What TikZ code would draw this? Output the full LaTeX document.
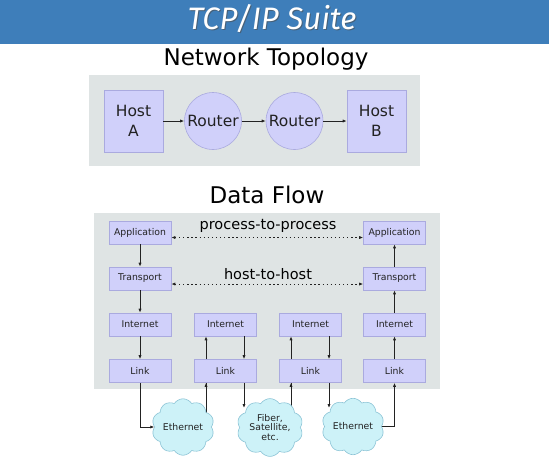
\documentclass[tikz,border=0pt]{standalone}
\usepackage{fontspec}
\setmainfont{DejaVu Sans}
\newfontfamily\titlefont{Fira Sans}
\usetikzlibrary{shapes.symbols,arrows.meta}
\definecolor{barblue}{HTML}{3E7EBA}
\definecolor{panelgray}{HTML}{DFE4E4}
\definecolor{boxfill}{HTML}{D0D0FA}
\definecolor{boxline}{HTML}{AAAADF}
\definecolor{cloudfill}{HTML}{CDF2F8}
\definecolor{cloudline}{HTML}{8CC4D6}
\definecolor{ink}{HTML}{222222}
\tikzset{
  layerbox/.style={rectangle, draw=boxline, fill=boxfill, line width=0.6pt,
    minimum width=62pt, minimum height=23pt, inner sep=0pt,
    font=\fontsize{9.3}{11}\selectfont, text=ink},
  hostbox/.style={rectangle, draw=boxline, fill=boxfill, line width=0.6pt,
    minimum width=59pt, minimum height=62pt, inner sep=0pt, align=center,
    font=\fontsize{15.5}{20}\selectfont, text=ink},
  routernode/.style={circle, draw=boxline, fill=boxfill, line width=0.6pt,
    minimum size=57pt, inner sep=0pt, font=\fontsize{15.5}{18}\selectfont, text=ink},
  netcloud/.style={cloud, cloud puffs=10, cloud puff arc=115, aspect=1.15,
    draw=cloudline, fill=cloudfill, line width=0.6pt, inner sep=0pt,
    minimum width=58pt, minimum height=50pt, align=center,
    font=\fontsize{9.3}{9.8}\selectfont, text=ink},
  heading/.style={font=\fontsize{23}{26}\selectfont, text=black},
  flowlabel/.style={font=\fontsize{14.5}{16}\selectfont, text=black},
  conn/.style={draw=ink, line width=0.9pt, -{Latex[length=4pt,width=3.2pt]}},
  peer/.style={draw=ink, line width=0.9pt, dash pattern=on 1.3pt off 2.8pt,
    {Latex[length=4pt,width=3.2pt]}-{Latex[length=4pt,width=3.2pt]}},
}
\begin{document}
\begin{tikzpicture}[x=1pt,y=-1pt]
\useasboundingbox (0,0) rectangle (549,463);
\fill[white] (0,0) rectangle (549,463);
% title bar
\fill[barblue] (0,0) rectangle (549,44);
\node[font=\titlefont\itshape\fontsize{31}{34}\selectfont, text=black!70, opacity=0.6] at (273,20) {TCP/IP Suite};
\node[font=\titlefont\itshape\fontsize{31}{34}\selectfont, text=white] (title) at (272,19) {TCP/IP Suite};
% topology
\node[heading] (toptitle) at (266,59) {Network Topology};
\fill[panelgray] (89,75) rectangle (420,166);
\node[hostbox] (ha) at (133.5,121) {Host\\A};
\node[routernode] (r1) at (213,121) {Router};
\node[routernode] (r2) at (294.5,121) {Router};
\node[hostbox] (hb) at (376.5,121) {Host\\B};
\draw[conn] (ha) -- (r1);
\draw[conn] (r1) -- (r2);
\draw[conn] (r2) -- (hb);
% data flow
\node[heading] (dftitle) at (267,195) {Data Flow};
\fill[panelgray] (94,213) rectangle (440,389);
\node[layerbox] (a1) at (140,232.5) {Application};
\node[layerbox] (a4) at (394.5,232.5) {Application};
\node[layerbox] (t1) at (140,278.5) {Transport};
\node[layerbox] (t4) at (394.5,278.5) {Transport};
\foreach \n/\x in {1/140,2/225.5,3/310.5,4/394.5}{
  \node[layerbox] (i\n) at (\x,324.5) {Internet};
  \node[layerbox] (l\n) at (\x,371) {Link};
}
\node[flowlabel] (ptp) at (268,226) {process-to-process};
\node[flowlabel] (hth) at (268,274) {host-to-host};
\coordinate (pa) at (0,237.5);
\coordinate (pt) at (0,284);
\draw[peer] (a1.east |- pa) -- (a4.west |- pa);
\draw[peer] (t1.east |- pt) -- (t4.west |- pt);
% vertical arrows
\draw[conn] (a1) -- (t1);
\draw[conn] (t1) -- (i1);
\draw[conn] (i1) -- (l1);
\draw[conn] (t4) -- (a4);
\draw[conn] (i4) -- (t4);
\draw[conn] (l4) -- (i4);
\coordinate (u2) at (206,0); \coordinate (d2) at (244,0);
\coordinate (u3) at (291,0); \coordinate (d3) at (329,0);
\draw[conn] (l2.north -| u2) -- (i2.south -| u2);
\draw[conn] (i2.south -| d2) -- (l2.north -| d2);
\draw[conn] (l3.north -| u3) -- (i3.south -| u3);
\draw[conn] (i3.south -| d3) -- (l3.north -| d3);
% clouds
\coordinate (e1top) at (206,420);
\coordinate (f1in) at (244,408);
\coordinate (f1top) at (291,420);
\coordinate (e2in) at (329,408);
\draw[draw=ink, line width=0.9pt] (e1top) -- (e1top |- l2.south);
\draw[draw=ink, line width=0.9pt] (f1top) -- (f1top |- l3.south);
\node[netcloud] (eth1) at (183,427) {Ethernet};
\node[netcloud, minimum width=66pt] (fiber) at (270,427.5) {Fiber,\\Satellite,\\etc.};
\node[netcloud] (eth2) at (353,426.5) {Ethernet};
\draw[conn] (l1.south) |- (eth1.west);
\draw[conn] (e1top |- eth1.north) ++(0,6) -- (e1top |- l2.south);
\draw[conn] (l2.south -| f1in) -- (f1in);
\draw[conn] (f1top |- fiber.north) ++(0,6) -- (f1top |- l3.south);
\draw[conn] (l3.south -| e2in) -- (e2in);
\draw[conn] (eth2.east) -| (l4.south);
\end{tikzpicture}
\end{document}
